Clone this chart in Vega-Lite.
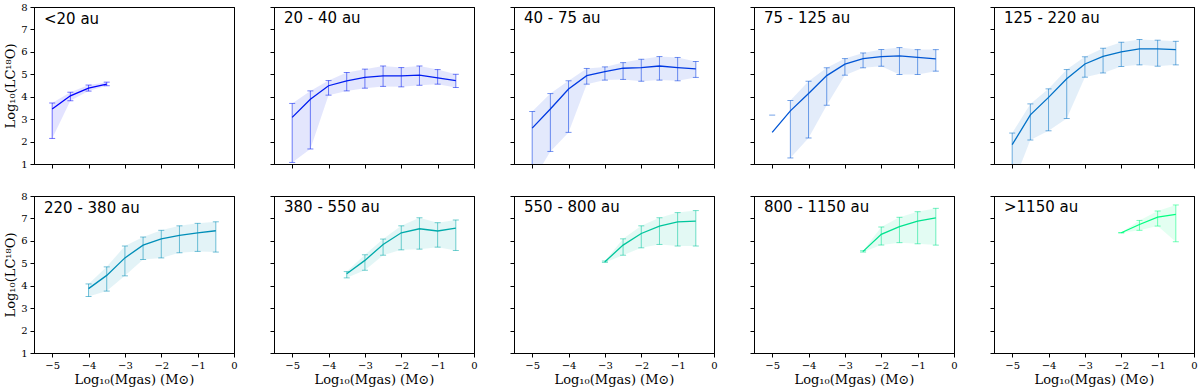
{
  "$schema": "https://vega.github.io/schema/vega-lite/v6.json",
  "background": "white",
  "padding": {"left": 4, "top": 1, "right": 0, "bottom": 0},
  "data": {"values": [
    {"bin": "<20 au", "x": -5, "y": 3.45, "lo": 2.14, "hi": 3.72},
    {"bin": "<20 au", "x": -4.5, "y": 4.04, "lo": 3.82, "hi": 4.20},
    {"bin": "<20 au", "x": -4, "y": 4.38, "lo": 4.25, "hi": 4.52},
    {"bin": "<20 au", "x": -3.5, "y": 4.56, "lo": 4.49, "hi": 4.65},
    {"bin": "20 - 40 au", "x": -5, "y": 3.08, "lo": 1.07, "hi": 3.70},
    {"bin": "20 - 40 au", "x": -4.5, "y": 3.89, "lo": 1.67, "hi": 4.26},
    {"bin": "20 - 40 au", "x": -4, "y": 4.49, "lo": 4.07, "hi": 4.72},
    {"bin": "20 - 40 au", "x": -3.5, "y": 4.71, "lo": 4.26, "hi": 5.08},
    {"bin": "20 - 40 au", "x": -3, "y": 4.86, "lo": 4.38, "hi": 5.23},
    {"bin": "20 - 40 au", "x": -2.5, "y": 4.93, "lo": 4.46, "hi": 5.37},
    {"bin": "20 - 40 au", "x": -2, "y": 4.93, "lo": 4.44, "hi": 5.30},
    {"bin": "20 - 40 au", "x": -1.5, "y": 4.96, "lo": 4.51, "hi": 5.37},
    {"bin": "20 - 40 au", "x": -1, "y": 4.84, "lo": 4.56, "hi": 5.21},
    {"bin": "20 - 40 au", "x": -0.5, "y": 4.72, "lo": 4.41, "hi": 5.00},
    {"bin": "40 - 75 au", "x": -5, "y": 2.60, "lo": 0.2, "hi": 3.34},
    {"bin": "40 - 75 au", "x": -4.5, "y": 3.45, "lo": 1.56, "hi": 4.14},
    {"bin": "40 - 75 au", "x": -4, "y": 4.34, "lo": 2.41, "hi": 4.71},
    {"bin": "40 - 75 au", "x": -3.5, "y": 4.94, "lo": 4.56, "hi": 5.26},
    {"bin": "40 - 75 au", "x": -3, "y": 5.12, "lo": 4.74, "hi": 5.33},
    {"bin": "40 - 75 au", "x": -2.5, "y": 5.27, "lo": 4.77, "hi": 5.52},
    {"bin": "40 - 75 au", "x": -2, "y": 5.30, "lo": 4.69, "hi": 5.67},
    {"bin": "40 - 75 au", "x": -1.5, "y": 5.37, "lo": 4.74, "hi": 5.79},
    {"bin": "40 - 75 au", "x": -1, "y": 5.30, "lo": 4.71, "hi": 5.75},
    {"bin": "40 - 75 au", "x": -0.5, "y": 5.24, "lo": 4.86, "hi": 5.57},
    {"bin": "75 - 125 au", "x": -5, "y": 2.41, "lo": null, "hi": 3.18},
    {"bin": "75 - 125 au", "x": -4.5, "y": 3.37, "lo": 1.27, "hi": 3.83},
    {"bin": "75 - 125 au", "x": -4, "y": 4.14, "lo": 2.16, "hi": 4.69},
    {"bin": "75 - 125 au", "x": -3.5, "y": 4.94, "lo": 3.62, "hi": 5.29},
    {"bin": "75 - 125 au", "x": -3, "y": 5.45, "lo": 4.96, "hi": 5.70},
    {"bin": "75 - 125 au", "x": -2.5, "y": 5.70, "lo": 5.29, "hi": 5.95},
    {"bin": "75 - 125 au", "x": -2, "y": 5.79, "lo": 5.36, "hi": 6.10},
    {"bin": "75 - 125 au", "x": -1.5, "y": 5.82, "lo": 4.99, "hi": 6.19},
    {"bin": "75 - 125 au", "x": -1, "y": 5.75, "lo": 4.99, "hi": 6.10},
    {"bin": "75 - 125 au", "x": -0.5, "y": 5.69, "lo": 5.14, "hi": 6.10},
    {"bin": "125 - 220 au", "x": -5, "y": 1.86, "lo": 0.0, "hi": 2.38},
    {"bin": "125 - 220 au", "x": -4.5, "y": 3.19, "lo": 2.07, "hi": 3.68},
    {"bin": "125 - 220 au", "x": -4, "y": 3.97, "lo": 2.48, "hi": 4.35},
    {"bin": "125 - 220 au", "x": -3.5, "y": 4.80, "lo": 3.03, "hi": 5.21},
    {"bin": "125 - 220 au", "x": -3, "y": 5.46, "lo": 4.87, "hi": 5.78},
    {"bin": "125 - 220 au", "x": -2.5, "y": 5.80, "lo": 5.06, "hi": 6.16},
    {"bin": "125 - 220 au", "x": -2, "y": 6.00, "lo": 5.35, "hi": 6.43},
    {"bin": "125 - 220 au", "x": -1.5, "y": 6.13, "lo": 5.42, "hi": 6.55},
    {"bin": "125 - 220 au", "x": -1, "y": 6.13, "lo": 5.36, "hi": 6.52},
    {"bin": "125 - 220 au", "x": -0.5, "y": 6.10, "lo": 5.42, "hi": 6.47},
    {"bin": "220 - 380 au", "x": -4, "y": 3.87, "lo": 3.52, "hi": 4.08},
    {"bin": "220 - 380 au", "x": -3.5, "y": 4.46, "lo": 3.76, "hi": 4.84},
    {"bin": "220 - 380 au", "x": -3, "y": 5.24, "lo": 4.44, "hi": 5.77},
    {"bin": "220 - 380 au", "x": -2.5, "y": 5.81, "lo": 5.17, "hi": 6.17},
    {"bin": "220 - 380 au", "x": -2, "y": 6.09, "lo": 5.24, "hi": 6.47},
    {"bin": "220 - 380 au", "x": -1.5, "y": 6.24, "lo": 5.47, "hi": 6.67},
    {"bin": "220 - 380 au", "x": -1, "y": 6.36, "lo": 5.53, "hi": 6.78},
    {"bin": "220 - 380 au", "x": -0.5, "y": 6.45, "lo": 5.50, "hi": 6.85},
    {"bin": "380 - 550 au", "x": -3.5, "y": 4.53, "lo": 4.35, "hi": 4.63},
    {"bin": "380 - 550 au", "x": -3, "y": 5.13, "lo": 4.69, "hi": 5.38},
    {"bin": "380 - 550 au", "x": -2.5, "y": 5.84, "lo": 5.36, "hi": 6.08},
    {"bin": "380 - 550 au", "x": -2, "y": 6.36, "lo": 5.60, "hi": 6.67},
    {"bin": "380 - 550 au", "x": -1.5, "y": 6.54, "lo": 5.63, "hi": 7.03},
    {"bin": "380 - 550 au", "x": -1, "y": 6.44, "lo": 5.72, "hi": 6.81},
    {"bin": "380 - 550 au", "x": -0.5, "y": 6.57, "lo": 5.57, "hi": 6.93},
    {"bin": "550 - 800 au", "x": -3, "y": 5.07, "lo": 5.04, "hi": 5.10},
    {"bin": "550 - 800 au", "x": -2.5, "y": 5.81, "lo": 5.36, "hi": 6.09},
    {"bin": "550 - 800 au", "x": -2, "y": 6.33, "lo": 5.69, "hi": 6.67},
    {"bin": "550 - 800 au", "x": -1.5, "y": 6.66, "lo": 5.84, "hi": 7.03},
    {"bin": "550 - 800 au", "x": -1, "y": 6.85, "lo": 5.77, "hi": 7.26},
    {"bin": "550 - 800 au", "x": -0.5, "y": 6.88, "lo": 5.77, "hi": 7.35},
    {"bin": "800 - 1150 au", "x": -2.5, "y": 5.53, "lo": 5.50, "hi": 5.56},
    {"bin": "800 - 1150 au", "x": -2, "y": 6.29, "lo": 5.81, "hi": 6.62},
    {"bin": "800 - 1150 au", "x": -1.5, "y": 6.63, "lo": 5.92, "hi": 7.05},
    {"bin": "800 - 1150 au", "x": -1, "y": 6.88, "lo": 5.87, "hi": 7.30},
    {"bin": "800 - 1150 au", "x": -0.5, "y": 7.02, "lo": 5.81, "hi": 7.45},
    {"bin": ">1150 au", "x": -2, "y": 6.36, "lo": 6.35, "hi": 6.37},
    {"bin": ">1150 au", "x": -1.5, "y": 6.73, "lo": 6.47, "hi": 6.91},
    {"bin": ">1150 au", "x": -1, "y": 7.06, "lo": 6.66, "hi": 7.33},
    {"bin": ">1150 au", "x": -0.5, "y": 7.18, "lo": 5.96, "hi": 7.60}
  ]},
  "columns": 5,
  "spacing": {"row": 32, "column": 40},
  "bounds": "flush",
  "concat": [
    {"width": 200, "height": 157, "title": {"text": "<20 au", "offset": -24.5}, "transform": [{"filter": "datum.bin === '<20 au'"}],
     "resolve": {"axis": {"x": "independent", "y": "independent"}},
     "layer": [
       {"transform": [{"filter": "isValid(datum.lo)"}], "mark": {"type": "area", "opacity": 0.11, "clip": true}, "encoding": {"x": {"field": "x", "type": "quantitative", "scale": {"domain": [-5.5, 0], "nice": false, "zero": false}, "axis": {"orient": "bottom", "values": [-5, -4, -3, -2, -1, 0], "labels": false, "title": null, "grid": true, "gridColor": "black", "gridWidth": 1, "gridOpacity": {"condition": {"test": "datum.value === 0", "value": 1}, "value": 0}}}, "y": {"field": "lo", "type": "quantitative", "stack": null, "scale": {"domain": [1, 8], "nice": false, "zero": false}, "axis": {"orient": "left", "values": [1, 2, 3, 4, 5, 6, 7, 8], "labels": true, "title": "Log₁₀(LC¹⁸O)", "grid": true, "gridColor": "black", "gridWidth": 1, "gridOpacity": {"condition": {"test": "datum.value === 8", "value": 1}, "value": 0}}}, "y2": {"field": "hi"}, "color": {"field": "bin", "type": "nominal", "scale": {"domain": ["<20 au", "20 - 40 au", "40 - 75 au", "75 - 125 au", "125 - 220 au", "220 - 380 au", "380 - 550 au", "550 - 800 au", "800 - 1150 au", ">1150 au"], "range": ["#0000ff", "#001cf1", "#0039e3", "#0055d5", "#0071c7", "#008eb8", "#00aaaa", "#00c69c", "#00e38e", "#00ff80"]}, "legend": null}}},
       {"transform": [{"filter": "isValid(datum.lo)"}], "mark": {"type": "rule", "opacity": 0.55, "strokeWidth": 1, "clip": true}, "encoding": {"x": {"field": "x", "type": "quantitative", "axis": null}, "y": {"field": "lo", "type": "quantitative", "axis": null}, "y2": {"field": "hi"}, "color": {"field": "bin", "type": "nominal", "legend": null}}},
       {"mark": {"type": "tick", "orient": "horizontal", "size": 6, "thickness": 1, "opacity": 0.55, "clip": true}, "encoding": {"x": {"field": "x", "type": "quantitative", "axis": null}, "y": {"field": "hi", "type": "quantitative", "axis": null}, "color": {"field": "bin", "type": "nominal", "legend": null}}},
       {"transform": [{"filter": "isValid(datum.lo)"}], "mark": {"type": "tick", "orient": "horizontal", "size": 6, "thickness": 1, "opacity": 0.55, "clip": true}, "encoding": {"x": {"field": "x", "type": "quantitative", "axis": null}, "y": {"field": "lo", "type": "quantitative", "axis": null}, "color": {"field": "bin", "type": "nominal", "legend": null}}},
       {"mark": {"type": "line", "strokeWidth": 1.3, "clip": true}, "encoding": {"x": {"field": "x", "type": "quantitative", "axis": null}, "y": {"field": "y", "type": "quantitative", "axis": null}, "color": {"field": "bin", "type": "nominal", "legend": null}}}
     ]},
    {"width": 200, "height": 157, "title": {"text": "20 - 40 au", "offset": -19.5}, "transform": [{"filter": "datum.bin === '20 - 40 au'"}],
     "resolve": {"axis": {"x": "independent", "y": "independent"}},
     "layer": [
       {"transform": [{"filter": "isValid(datum.lo)"}], "mark": {"type": "area", "opacity": 0.11, "clip": true}, "encoding": {"x": {"field": "x", "type": "quantitative", "scale": {"domain": [-5.5, 0], "nice": false, "zero": false}, "axis": {"orient": "bottom", "values": [-5, -4, -3, -2, -1, 0], "labels": false, "title": null, "grid": true, "gridColor": "black", "gridWidth": 1, "gridOpacity": {"condition": {"test": "datum.value === 0", "value": 1}, "value": 0}}}, "y": {"field": "lo", "type": "quantitative", "stack": null, "scale": {"domain": [1, 8], "nice": false, "zero": false}, "axis": {"orient": "left", "values": [1, 2, 3, 4, 5, 6, 7, 8], "labels": false, "title": null, "grid": true, "gridColor": "black", "gridWidth": 1, "gridOpacity": {"condition": {"test": "datum.value === 8", "value": 1}, "value": 0}}}, "y2": {"field": "hi"}, "color": {"field": "bin", "type": "nominal", "scale": {"domain": ["<20 au", "20 - 40 au", "40 - 75 au", "75 - 125 au", "125 - 220 au", "220 - 380 au", "380 - 550 au", "550 - 800 au", "800 - 1150 au", ">1150 au"], "range": ["#0000ff", "#001cf1", "#0039e3", "#0055d5", "#0071c7", "#008eb8", "#00aaaa", "#00c69c", "#00e38e", "#00ff80"]}, "legend": null}}},
       {"transform": [{"filter": "isValid(datum.lo)"}], "mark": {"type": "rule", "opacity": 0.55, "strokeWidth": 1, "clip": true}, "encoding": {"x": {"field": "x", "type": "quantitative", "axis": null}, "y": {"field": "lo", "type": "quantitative", "axis": null}, "y2": {"field": "hi"}, "color": {"field": "bin", "type": "nominal", "legend": null}}},
       {"mark": {"type": "tick", "orient": "horizontal", "size": 6, "thickness": 1, "opacity": 0.55, "clip": true}, "encoding": {"x": {"field": "x", "type": "quantitative", "axis": null}, "y": {"field": "hi", "type": "quantitative", "axis": null}, "color": {"field": "bin", "type": "nominal", "legend": null}}},
       {"transform": [{"filter": "isValid(datum.lo)"}], "mark": {"type": "tick", "orient": "horizontal", "size": 6, "thickness": 1, "opacity": 0.55, "clip": true}, "encoding": {"x": {"field": "x", "type": "quantitative", "axis": null}, "y": {"field": "lo", "type": "quantitative", "axis": null}, "color": {"field": "bin", "type": "nominal", "legend": null}}},
       {"mark": {"type": "line", "strokeWidth": 1.3, "clip": true}, "encoding": {"x": {"field": "x", "type": "quantitative", "axis": null}, "y": {"field": "y", "type": "quantitative", "axis": null}, "color": {"field": "bin", "type": "nominal", "legend": null}}}
     ]},
    {"width": 200, "height": 157, "title": {"text": "40 - 75 au", "offset": -19.5}, "transform": [{"filter": "datum.bin === '40 - 75 au'"}],
     "resolve": {"axis": {"x": "independent", "y": "independent"}},
     "layer": [
       {"transform": [{"filter": "isValid(datum.lo)"}], "mark": {"type": "area", "opacity": 0.11, "clip": true}, "encoding": {"x": {"field": "x", "type": "quantitative", "scale": {"domain": [-5.5, 0], "nice": false, "zero": false}, "axis": {"orient": "bottom", "values": [-5, -4, -3, -2, -1, 0], "labels": false, "title": null, "grid": true, "gridColor": "black", "gridWidth": 1, "gridOpacity": {"condition": {"test": "datum.value === 0", "value": 1}, "value": 0}}}, "y": {"field": "lo", "type": "quantitative", "stack": null, "scale": {"domain": [1, 8], "nice": false, "zero": false}, "axis": {"orient": "left", "values": [1, 2, 3, 4, 5, 6, 7, 8], "labels": false, "title": null, "grid": true, "gridColor": "black", "gridWidth": 1, "gridOpacity": {"condition": {"test": "datum.value === 8", "value": 1}, "value": 0}}}, "y2": {"field": "hi"}, "color": {"field": "bin", "type": "nominal", "scale": {"domain": ["<20 au", "20 - 40 au", "40 - 75 au", "75 - 125 au", "125 - 220 au", "220 - 380 au", "380 - 550 au", "550 - 800 au", "800 - 1150 au", ">1150 au"], "range": ["#0000ff", "#001cf1", "#0039e3", "#0055d5", "#0071c7", "#008eb8", "#00aaaa", "#00c69c", "#00e38e", "#00ff80"]}, "legend": null}}},
       {"transform": [{"filter": "isValid(datum.lo)"}], "mark": {"type": "rule", "opacity": 0.55, "strokeWidth": 1, "clip": true}, "encoding": {"x": {"field": "x", "type": "quantitative", "axis": null}, "y": {"field": "lo", "type": "quantitative", "axis": null}, "y2": {"field": "hi"}, "color": {"field": "bin", "type": "nominal", "legend": null}}},
       {"mark": {"type": "tick", "orient": "horizontal", "size": 6, "thickness": 1, "opacity": 0.55, "clip": true}, "encoding": {"x": {"field": "x", "type": "quantitative", "axis": null}, "y": {"field": "hi", "type": "quantitative", "axis": null}, "color": {"field": "bin", "type": "nominal", "legend": null}}},
       {"transform": [{"filter": "isValid(datum.lo)"}], "mark": {"type": "tick", "orient": "horizontal", "size": 6, "thickness": 1, "opacity": 0.55, "clip": true}, "encoding": {"x": {"field": "x", "type": "quantitative", "axis": null}, "y": {"field": "lo", "type": "quantitative", "axis": null}, "color": {"field": "bin", "type": "nominal", "legend": null}}},
       {"mark": {"type": "line", "strokeWidth": 1.3, "clip": true}, "encoding": {"x": {"field": "x", "type": "quantitative", "axis": null}, "y": {"field": "y", "type": "quantitative", "axis": null}, "color": {"field": "bin", "type": "nominal", "legend": null}}}
     ]},
    {"width": 200, "height": 157, "title": {"text": "75 - 125 au", "offset": -19.5}, "transform": [{"filter": "datum.bin === '75 - 125 au'"}],
     "resolve": {"axis": {"x": "independent", "y": "independent"}},
     "layer": [
       {"transform": [{"filter": "isValid(datum.lo)"}], "mark": {"type": "area", "opacity": 0.11, "clip": true}, "encoding": {"x": {"field": "x", "type": "quantitative", "scale": {"domain": [-5.5, 0], "nice": false, "zero": false}, "axis": {"orient": "bottom", "values": [-5, -4, -3, -2, -1, 0], "labels": false, "title": null, "grid": true, "gridColor": "black", "gridWidth": 1, "gridOpacity": {"condition": {"test": "datum.value === 0", "value": 1}, "value": 0}}}, "y": {"field": "lo", "type": "quantitative", "stack": null, "scale": {"domain": [1, 8], "nice": false, "zero": false}, "axis": {"orient": "left", "values": [1, 2, 3, 4, 5, 6, 7, 8], "labels": false, "title": null, "grid": true, "gridColor": "black", "gridWidth": 1, "gridOpacity": {"condition": {"test": "datum.value === 8", "value": 1}, "value": 0}}}, "y2": {"field": "hi"}, "color": {"field": "bin", "type": "nominal", "scale": {"domain": ["<20 au", "20 - 40 au", "40 - 75 au", "75 - 125 au", "125 - 220 au", "220 - 380 au", "380 - 550 au", "550 - 800 au", "800 - 1150 au", ">1150 au"], "range": ["#0000ff", "#001cf1", "#0039e3", "#0055d5", "#0071c7", "#008eb8", "#00aaaa", "#00c69c", "#00e38e", "#00ff80"]}, "legend": null}}},
       {"transform": [{"filter": "isValid(datum.lo)"}], "mark": {"type": "rule", "opacity": 0.55, "strokeWidth": 1, "clip": true}, "encoding": {"x": {"field": "x", "type": "quantitative", "axis": null}, "y": {"field": "lo", "type": "quantitative", "axis": null}, "y2": {"field": "hi"}, "color": {"field": "bin", "type": "nominal", "legend": null}}},
       {"mark": {"type": "tick", "orient": "horizontal", "size": 6, "thickness": 1, "opacity": 0.55, "clip": true}, "encoding": {"x": {"field": "x", "type": "quantitative", "axis": null}, "y": {"field": "hi", "type": "quantitative", "axis": null}, "color": {"field": "bin", "type": "nominal", "legend": null}}},
       {"transform": [{"filter": "isValid(datum.lo)"}], "mark": {"type": "tick", "orient": "horizontal", "size": 6, "thickness": 1, "opacity": 0.55, "clip": true}, "encoding": {"x": {"field": "x", "type": "quantitative", "axis": null}, "y": {"field": "lo", "type": "quantitative", "axis": null}, "color": {"field": "bin", "type": "nominal", "legend": null}}},
       {"mark": {"type": "line", "strokeWidth": 1.3, "clip": true}, "encoding": {"x": {"field": "x", "type": "quantitative", "axis": null}, "y": {"field": "y", "type": "quantitative", "axis": null}, "color": {"field": "bin", "type": "nominal", "legend": null}}}
     ]},
    {"width": 200, "height": 157, "title": {"text": "125 - 220 au", "offset": -19.5}, "transform": [{"filter": "datum.bin === '125 - 220 au'"}],
     "resolve": {"axis": {"x": "independent", "y": "independent"}},
     "layer": [
       {"transform": [{"filter": "isValid(datum.lo)"}], "mark": {"type": "area", "opacity": 0.11, "clip": true}, "encoding": {"x": {"field": "x", "type": "quantitative", "scale": {"domain": [-5.5, 0], "nice": false, "zero": false}, "axis": {"orient": "bottom", "values": [-5, -4, -3, -2, -1, 0], "labels": false, "title": null, "grid": true, "gridColor": "black", "gridWidth": 1, "gridOpacity": {"condition": {"test": "datum.value === 0", "value": 1}, "value": 0}}}, "y": {"field": "lo", "type": "quantitative", "stack": null, "scale": {"domain": [1, 8], "nice": false, "zero": false}, "axis": {"orient": "left", "values": [1, 2, 3, 4, 5, 6, 7, 8], "labels": false, "title": null, "grid": true, "gridColor": "black", "gridWidth": 1, "gridOpacity": {"condition": {"test": "datum.value === 8", "value": 1}, "value": 0}}}, "y2": {"field": "hi"}, "color": {"field": "bin", "type": "nominal", "scale": {"domain": ["<20 au", "20 - 40 au", "40 - 75 au", "75 - 125 au", "125 - 220 au", "220 - 380 au", "380 - 550 au", "550 - 800 au", "800 - 1150 au", ">1150 au"], "range": ["#0000ff", "#001cf1", "#0039e3", "#0055d5", "#0071c7", "#008eb8", "#00aaaa", "#00c69c", "#00e38e", "#00ff80"]}, "legend": null}}},
       {"transform": [{"filter": "isValid(datum.lo)"}], "mark": {"type": "rule", "opacity": 0.55, "strokeWidth": 1, "clip": true}, "encoding": {"x": {"field": "x", "type": "quantitative", "axis": null}, "y": {"field": "lo", "type": "quantitative", "axis": null}, "y2": {"field": "hi"}, "color": {"field": "bin", "type": "nominal", "legend": null}}},
       {"mark": {"type": "tick", "orient": "horizontal", "size": 6, "thickness": 1, "opacity": 0.55, "clip": true}, "encoding": {"x": {"field": "x", "type": "quantitative", "axis": null}, "y": {"field": "hi", "type": "quantitative", "axis": null}, "color": {"field": "bin", "type": "nominal", "legend": null}}},
       {"transform": [{"filter": "isValid(datum.lo)"}], "mark": {"type": "tick", "orient": "horizontal", "size": 6, "thickness": 1, "opacity": 0.55, "clip": true}, "encoding": {"x": {"field": "x", "type": "quantitative", "axis": null}, "y": {"field": "lo", "type": "quantitative", "axis": null}, "color": {"field": "bin", "type": "nominal", "legend": null}}},
       {"mark": {"type": "line", "strokeWidth": 1.3, "clip": true}, "encoding": {"x": {"field": "x", "type": "quantitative", "axis": null}, "y": {"field": "y", "type": "quantitative", "axis": null}, "color": {"field": "bin", "type": "nominal", "legend": null}}}
     ]},
    {"width": 200, "height": 157, "title": {"text": "220 - 380 au", "offset": -24.5}, "transform": [{"filter": "datum.bin === '220 - 380 au'"}],
     "resolve": {"axis": {"x": "independent", "y": "independent"}},
     "layer": [
       {"transform": [{"filter": "isValid(datum.lo)"}], "mark": {"type": "area", "opacity": 0.11, "clip": true}, "encoding": {"x": {"field": "x", "type": "quantitative", "scale": {"domain": [-5.5, 0], "nice": false, "zero": false}, "axis": {"orient": "bottom", "values": [-5, -4, -3, -2, -1, 0], "labels": true, "title": "Log₁₀(Mgas) (M⊙)", "grid": true, "gridColor": "black", "gridWidth": 1, "gridOpacity": {"condition": {"test": "datum.value === 0", "value": 1}, "value": 0}}}, "y": {"field": "lo", "type": "quantitative", "stack": null, "scale": {"domain": [1, 8], "nice": false, "zero": false}, "axis": {"orient": "left", "values": [1, 2, 3, 4, 5, 6, 7, 8], "labels": true, "title": "Log₁₀(LC¹⁸O)", "grid": true, "gridColor": "black", "gridWidth": 1, "gridOpacity": {"condition": {"test": "datum.value === 8", "value": 1}, "value": 0}}}, "y2": {"field": "hi"}, "color": {"field": "bin", "type": "nominal", "scale": {"domain": ["<20 au", "20 - 40 au", "40 - 75 au", "75 - 125 au", "125 - 220 au", "220 - 380 au", "380 - 550 au", "550 - 800 au", "800 - 1150 au", ">1150 au"], "range": ["#0000ff", "#001cf1", "#0039e3", "#0055d5", "#0071c7", "#008eb8", "#00aaaa", "#00c69c", "#00e38e", "#00ff80"]}, "legend": null}}},
       {"transform": [{"filter": "isValid(datum.lo)"}], "mark": {"type": "rule", "opacity": 0.55, "strokeWidth": 1, "clip": true}, "encoding": {"x": {"field": "x", "type": "quantitative", "axis": null}, "y": {"field": "lo", "type": "quantitative", "axis": null}, "y2": {"field": "hi"}, "color": {"field": "bin", "type": "nominal", "legend": null}}},
       {"mark": {"type": "tick", "orient": "horizontal", "size": 6, "thickness": 1, "opacity": 0.55, "clip": true}, "encoding": {"x": {"field": "x", "type": "quantitative", "axis": null}, "y": {"field": "hi", "type": "quantitative", "axis": null}, "color": {"field": "bin", "type": "nominal", "legend": null}}},
       {"transform": [{"filter": "isValid(datum.lo)"}], "mark": {"type": "tick", "orient": "horizontal", "size": 6, "thickness": 1, "opacity": 0.55, "clip": true}, "encoding": {"x": {"field": "x", "type": "quantitative", "axis": null}, "y": {"field": "lo", "type": "quantitative", "axis": null}, "color": {"field": "bin", "type": "nominal", "legend": null}}},
       {"mark": {"type": "line", "strokeWidth": 1.3, "clip": true}, "encoding": {"x": {"field": "x", "type": "quantitative", "axis": null}, "y": {"field": "y", "type": "quantitative", "axis": null}, "color": {"field": "bin", "type": "nominal", "legend": null}}}
     ]},
    {"width": 200, "height": 157, "title": {"text": "380 - 550 au", "offset": -19.5}, "transform": [{"filter": "datum.bin === '380 - 550 au'"}],
     "resolve": {"axis": {"x": "independent", "y": "independent"}},
     "layer": [
       {"transform": [{"filter": "isValid(datum.lo)"}], "mark": {"type": "area", "opacity": 0.11, "clip": true}, "encoding": {"x": {"field": "x", "type": "quantitative", "scale": {"domain": [-5.5, 0], "nice": false, "zero": false}, "axis": {"orient": "bottom", "values": [-5, -4, -3, -2, -1, 0], "labels": true, "title": "Log₁₀(Mgas) (M⊙)", "grid": true, "gridColor": "black", "gridWidth": 1, "gridOpacity": {"condition": {"test": "datum.value === 0", "value": 1}, "value": 0}}}, "y": {"field": "lo", "type": "quantitative", "stack": null, "scale": {"domain": [1, 8], "nice": false, "zero": false}, "axis": {"orient": "left", "values": [1, 2, 3, 4, 5, 6, 7, 8], "labels": false, "title": null, "grid": true, "gridColor": "black", "gridWidth": 1, "gridOpacity": {"condition": {"test": "datum.value === 8", "value": 1}, "value": 0}}}, "y2": {"field": "hi"}, "color": {"field": "bin", "type": "nominal", "scale": {"domain": ["<20 au", "20 - 40 au", "40 - 75 au", "75 - 125 au", "125 - 220 au", "220 - 380 au", "380 - 550 au", "550 - 800 au", "800 - 1150 au", ">1150 au"], "range": ["#0000ff", "#001cf1", "#0039e3", "#0055d5", "#0071c7", "#008eb8", "#00aaaa", "#00c69c", "#00e38e", "#00ff80"]}, "legend": null}}},
       {"transform": [{"filter": "isValid(datum.lo)"}], "mark": {"type": "rule", "opacity": 0.55, "strokeWidth": 1, "clip": true}, "encoding": {"x": {"field": "x", "type": "quantitative", "axis": null}, "y": {"field": "lo", "type": "quantitative", "axis": null}, "y2": {"field": "hi"}, "color": {"field": "bin", "type": "nominal", "legend": null}}},
       {"mark": {"type": "tick", "orient": "horizontal", "size": 6, "thickness": 1, "opacity": 0.55, "clip": true}, "encoding": {"x": {"field": "x", "type": "quantitative", "axis": null}, "y": {"field": "hi", "type": "quantitative", "axis": null}, "color": {"field": "bin", "type": "nominal", "legend": null}}},
       {"transform": [{"filter": "isValid(datum.lo)"}], "mark": {"type": "tick", "orient": "horizontal", "size": 6, "thickness": 1, "opacity": 0.55, "clip": true}, "encoding": {"x": {"field": "x", "type": "quantitative", "axis": null}, "y": {"field": "lo", "type": "quantitative", "axis": null}, "color": {"field": "bin", "type": "nominal", "legend": null}}},
       {"mark": {"type": "line", "strokeWidth": 1.3, "clip": true}, "encoding": {"x": {"field": "x", "type": "quantitative", "axis": null}, "y": {"field": "y", "type": "quantitative", "axis": null}, "color": {"field": "bin", "type": "nominal", "legend": null}}}
     ]},
    {"width": 200, "height": 157, "title": {"text": "550 - 800 au", "offset": -19.5}, "transform": [{"filter": "datum.bin === '550 - 800 au'"}],
     "resolve": {"axis": {"x": "independent", "y": "independent"}},
     "layer": [
       {"transform": [{"filter": "isValid(datum.lo)"}], "mark": {"type": "area", "opacity": 0.11, "clip": true}, "encoding": {"x": {"field": "x", "type": "quantitative", "scale": {"domain": [-5.5, 0], "nice": false, "zero": false}, "axis": {"orient": "bottom", "values": [-5, -4, -3, -2, -1, 0], "labels": true, "title": "Log₁₀(Mgas) (M⊙)", "grid": true, "gridColor": "black", "gridWidth": 1, "gridOpacity": {"condition": {"test": "datum.value === 0", "value": 1}, "value": 0}}}, "y": {"field": "lo", "type": "quantitative", "stack": null, "scale": {"domain": [1, 8], "nice": false, "zero": false}, "axis": {"orient": "left", "values": [1, 2, 3, 4, 5, 6, 7, 8], "labels": false, "title": null, "grid": true, "gridColor": "black", "gridWidth": 1, "gridOpacity": {"condition": {"test": "datum.value === 8", "value": 1}, "value": 0}}}, "y2": {"field": "hi"}, "color": {"field": "bin", "type": "nominal", "scale": {"domain": ["<20 au", "20 - 40 au", "40 - 75 au", "75 - 125 au", "125 - 220 au", "220 - 380 au", "380 - 550 au", "550 - 800 au", "800 - 1150 au", ">1150 au"], "range": ["#0000ff", "#001cf1", "#0039e3", "#0055d5", "#0071c7", "#008eb8", "#00aaaa", "#00c69c", "#00e38e", "#00ff80"]}, "legend": null}}},
       {"transform": [{"filter": "isValid(datum.lo)"}], "mark": {"type": "rule", "opacity": 0.55, "strokeWidth": 1, "clip": true}, "encoding": {"x": {"field": "x", "type": "quantitative", "axis": null}, "y": {"field": "lo", "type": "quantitative", "axis": null}, "y2": {"field": "hi"}, "color": {"field": "bin", "type": "nominal", "legend": null}}},
       {"mark": {"type": "tick", "orient": "horizontal", "size": 6, "thickness": 1, "opacity": 0.55, "clip": true}, "encoding": {"x": {"field": "x", "type": "quantitative", "axis": null}, "y": {"field": "hi", "type": "quantitative", "axis": null}, "color": {"field": "bin", "type": "nominal", "legend": null}}},
       {"transform": [{"filter": "isValid(datum.lo)"}], "mark": {"type": "tick", "orient": "horizontal", "size": 6, "thickness": 1, "opacity": 0.55, "clip": true}, "encoding": {"x": {"field": "x", "type": "quantitative", "axis": null}, "y": {"field": "lo", "type": "quantitative", "axis": null}, "color": {"field": "bin", "type": "nominal", "legend": null}}},
       {"mark": {"type": "line", "strokeWidth": 1.3, "clip": true}, "encoding": {"x": {"field": "x", "type": "quantitative", "axis": null}, "y": {"field": "y", "type": "quantitative", "axis": null}, "color": {"field": "bin", "type": "nominal", "legend": null}}}
     ]},
    {"width": 200, "height": 157, "title": {"text": "800 - 1150 au", "offset": -19.5}, "transform": [{"filter": "datum.bin === '800 - 1150 au'"}],
     "resolve": {"axis": {"x": "independent", "y": "independent"}},
     "layer": [
       {"transform": [{"filter": "isValid(datum.lo)"}], "mark": {"type": "area", "opacity": 0.11, "clip": true}, "encoding": {"x": {"field": "x", "type": "quantitative", "scale": {"domain": [-5.5, 0], "nice": false, "zero": false}, "axis": {"orient": "bottom", "values": [-5, -4, -3, -2, -1, 0], "labels": true, "title": "Log₁₀(Mgas) (M⊙)", "grid": true, "gridColor": "black", "gridWidth": 1, "gridOpacity": {"condition": {"test": "datum.value === 0", "value": 1}, "value": 0}}}, "y": {"field": "lo", "type": "quantitative", "stack": null, "scale": {"domain": [1, 8], "nice": false, "zero": false}, "axis": {"orient": "left", "values": [1, 2, 3, 4, 5, 6, 7, 8], "labels": false, "title": null, "grid": true, "gridColor": "black", "gridWidth": 1, "gridOpacity": {"condition": {"test": "datum.value === 8", "value": 1}, "value": 0}}}, "y2": {"field": "hi"}, "color": {"field": "bin", "type": "nominal", "scale": {"domain": ["<20 au", "20 - 40 au", "40 - 75 au", "75 - 125 au", "125 - 220 au", "220 - 380 au", "380 - 550 au", "550 - 800 au", "800 - 1150 au", ">1150 au"], "range": ["#0000ff", "#001cf1", "#0039e3", "#0055d5", "#0071c7", "#008eb8", "#00aaaa", "#00c69c", "#00e38e", "#00ff80"]}, "legend": null}}},
       {"transform": [{"filter": "isValid(datum.lo)"}], "mark": {"type": "rule", "opacity": 0.55, "strokeWidth": 1, "clip": true}, "encoding": {"x": {"field": "x", "type": "quantitative", "axis": null}, "y": {"field": "lo", "type": "quantitative", "axis": null}, "y2": {"field": "hi"}, "color": {"field": "bin", "type": "nominal", "legend": null}}},
       {"mark": {"type": "tick", "orient": "horizontal", "size": 6, "thickness": 1, "opacity": 0.55, "clip": true}, "encoding": {"x": {"field": "x", "type": "quantitative", "axis": null}, "y": {"field": "hi", "type": "quantitative", "axis": null}, "color": {"field": "bin", "type": "nominal", "legend": null}}},
       {"transform": [{"filter": "isValid(datum.lo)"}], "mark": {"type": "tick", "orient": "horizontal", "size": 6, "thickness": 1, "opacity": 0.55, "clip": true}, "encoding": {"x": {"field": "x", "type": "quantitative", "axis": null}, "y": {"field": "lo", "type": "quantitative", "axis": null}, "color": {"field": "bin", "type": "nominal", "legend": null}}},
       {"mark": {"type": "line", "strokeWidth": 1.3, "clip": true}, "encoding": {"x": {"field": "x", "type": "quantitative", "axis": null}, "y": {"field": "y", "type": "quantitative", "axis": null}, "color": {"field": "bin", "type": "nominal", "legend": null}}}
     ]},
    {"width": 200, "height": 157, "title": {"text": ">1150 au", "offset": -19.5}, "transform": [{"filter": "datum.bin === '>1150 au'"}],
     "resolve": {"axis": {"x": "independent", "y": "independent"}},
     "layer": [
       {"transform": [{"filter": "isValid(datum.lo)"}], "mark": {"type": "area", "opacity": 0.11, "clip": true}, "encoding": {"x": {"field": "x", "type": "quantitative", "scale": {"domain": [-5.5, 0], "nice": false, "zero": false}, "axis": {"orient": "bottom", "values": [-5, -4, -3, -2, -1, 0], "labels": true, "title": "Log₁₀(Mgas) (M⊙)", "grid": true, "gridColor": "black", "gridWidth": 1, "gridOpacity": {"condition": {"test": "datum.value === 0", "value": 1}, "value": 0}}}, "y": {"field": "lo", "type": "quantitative", "stack": null, "scale": {"domain": [1, 8], "nice": false, "zero": false}, "axis": {"orient": "left", "values": [1, 2, 3, 4, 5, 6, 7, 8], "labels": false, "title": null, "grid": true, "gridColor": "black", "gridWidth": 1, "gridOpacity": {"condition": {"test": "datum.value === 8", "value": 1}, "value": 0}}}, "y2": {"field": "hi"}, "color": {"field": "bin", "type": "nominal", "scale": {"domain": ["<20 au", "20 - 40 au", "40 - 75 au", "75 - 125 au", "125 - 220 au", "220 - 380 au", "380 - 550 au", "550 - 800 au", "800 - 1150 au", ">1150 au"], "range": ["#0000ff", "#001cf1", "#0039e3", "#0055d5", "#0071c7", "#008eb8", "#00aaaa", "#00c69c", "#00e38e", "#00ff80"]}, "legend": null}}},
       {"transform": [{"filter": "isValid(datum.lo)"}], "mark": {"type": "rule", "opacity": 0.55, "strokeWidth": 1, "clip": true}, "encoding": {"x": {"field": "x", "type": "quantitative", "axis": null}, "y": {"field": "lo", "type": "quantitative", "axis": null}, "y2": {"field": "hi"}, "color": {"field": "bin", "type": "nominal", "legend": null}}},
       {"mark": {"type": "tick", "orient": "horizontal", "size": 6, "thickness": 1, "opacity": 0.55, "clip": true}, "encoding": {"x": {"field": "x", "type": "quantitative", "axis": null}, "y": {"field": "hi", "type": "quantitative", "axis": null}, "color": {"field": "bin", "type": "nominal", "legend": null}}},
       {"transform": [{"filter": "isValid(datum.lo)"}], "mark": {"type": "tick", "orient": "horizontal", "size": 6, "thickness": 1, "opacity": 0.55, "clip": true}, "encoding": {"x": {"field": "x", "type": "quantitative", "axis": null}, "y": {"field": "lo", "type": "quantitative", "axis": null}, "color": {"field": "bin", "type": "nominal", "legend": null}}},
       {"mark": {"type": "line", "strokeWidth": 1.3, "clip": true}, "encoding": {"x": {"field": "x", "type": "quantitative", "axis": null}, "y": {"field": "y", "type": "quantitative", "axis": null}, "color": {"field": "bin", "type": "nominal", "legend": null}}}
     ]}
  ],
  "config": {
    "view": {"stroke": "black", "strokeWidth": 1},
    "title": {"anchor": "start", "frame": "group", "orient": "top", "dx": 10, "baseline": "alphabetic", "font": "DejaVu Sans", "fontSize": 15, "fontWeight": "normal", "color": "black"},
    "axis": {"domainColor": "black", "tickColor": "black", "labelColor": "black", "titleColor": "black", "labelFont": "DejaVu Serif", "titleFont": "DejaVu Serif", "labelFontSize": 10, "titleFontSize": 13, "titleFontWeight": "normal", "tickSize": 4, "labelPadding": 3, "titlePadding": 3, "labelFlush": false, "labelOverlap": false}
  }
}
